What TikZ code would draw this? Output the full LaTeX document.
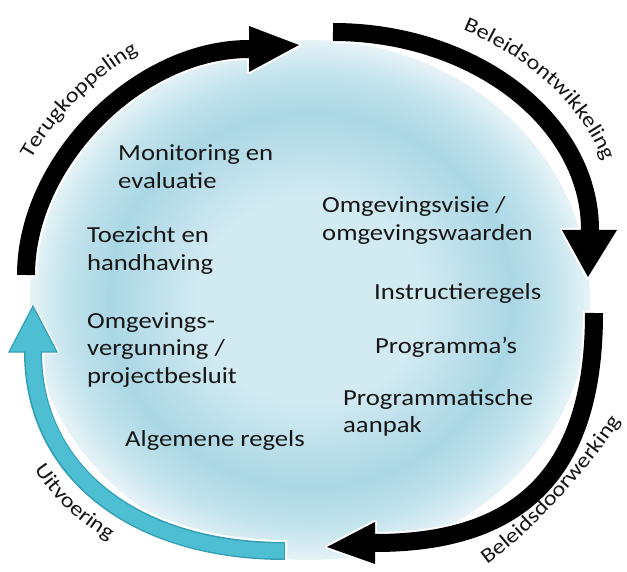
\documentclass[tikz,border=0pt]{standalone}
\usepackage{fontspec}
\setmainfont{Carlito}[FakeStretch=1.16]
\usetikzlibrary{calc,decorations.text}
\definecolor{txt}{HTML}{161616}
\definecolor{tealA}{HTML}{4EBED3}
\definecolor{tealB}{HTML}{34A0B7}
\definecolor{blobC}{HTML}{D2EAF2}
\definecolor{blobM}{HTML}{AAD7E4}
\definecolor{blobN}{HTML}{C4E4ED}
\definecolor{blobE}{HTML}{E6F3F7}
\pgfdeclareradialshading{blobshade}{\pgfpoint{0bp}{0bp}}{color(0bp)=(blobC); color(10bp)=(blobC); color(18bp)=(blobM); color(22bp)=(blobN); color(25bp)=(blobE); color(50bp)=(blobE)}
\newcommand\lblfont{\fontsize{23}{27.5}\selectfont}
\newcommand\arcfont{\fontsize{21}{21}\selectfont}
\begin{document}
\begin{tikzpicture}[x=1pt,y=1pt,
  lbl/.style={font=\lblfont, text=txt, anchor=base west, inner sep=0pt},
  halo/.style={white, line width=22pt, shorten <=-2pt},
  headhalo/.style={fill=white, draw=white, line width=4pt, line join=round},
  shaftk/.style={black, line width=18pt},
  curvetext/.style={decorate, decoration={text along path, text color=txt, text={|\arcfont|#1}}}
]
\useasboundingbox (0,0) rectangle (627,-572);
\fill[white] (0,0) rectangle (627,-572);
% blob
\shade[shading=blobshade] (310,-300) ellipse [x radius=280, y radius=260];

% ---------- arrow 1 (Terugkoppeling)
\coordinate (a1s) at (26,-275); \coordinate (a1c) at (26,-49); \coordinate (a1e) at (249,-49);
\coordinate (h1a) at (249,-26); \coordinate (h1t) at (299,-45); \coordinate (h1b) at (249,-72);
\draw[halo] (a1s) .. controls ($(a1s)!0.5!(a1c)$) and ($(a1e)!0.5!(a1c)$) .. (a1e);
\filldraw[headhalo] (h1a) -- (h1t) -- (h1b) -- cycle;
\draw[shaftk] (a1s) .. controls ($(a1s)!0.5!(a1c)$) and ($(a1e)!0.5!(a1c)$) .. (a1e);
\fill[black] (h1a) -- (h1t) -- (h1b) -- cycle;

% ---------- arrow 2 (Beleidsontwikkeling)
\coordinate (a2s) at (333,-32); \coordinate (a2c) at (590,-32); \coordinate (a2e) at (590,-230);
\coordinate (h2a) at (562,-230); \coordinate (h2t) at (588,-277); \coordinate (h2b) at (617,-230);
\draw[halo] (a2s) .. controls ($(a2s)!0.55!(a2c)$) and ($(a2e)!0.55!(a2c)$) .. (a2e);
\filldraw[headhalo] (h2a) -- (h2t) -- (h2b) -- cycle;
\draw[shaftk] (a2s) .. controls ($(a2s)!0.55!(a2c)$) and ($(a2e)!0.55!(a2c)$) .. (a2e);
\fill[black] (h2a) -- (h2t) -- (h2b) -- cycle;

% ---------- arrow 3 (Beleidsdoorwerking)
\coordinate (a3s) at (594,-313); \coordinate (a3c) at (594,-543); \coordinate (a3e) at (375,-543);
\coordinate (h3a) at (375,-522); \coordinate (h3t) at (327,-547); \coordinate (h3b) at (375,-564);
\draw[halo] (a3s) .. controls ($(a3s)!0.68!(a3c)$) and ($(a3e)!0.68!(a3c)$) .. (a3e);
\filldraw[headhalo] (h3a) -- (h3t) -- (h3b) -- cycle;
\draw[shaftk] (a3s) .. controls ($(a3s)!0.68!(a3c)$) and ($(a3e)!0.68!(a3c)$) .. (a3e);
\fill[black] (h3a) -- (h3t) -- (h3b) -- cycle;

% ---------- arrow 4 (Uitvoering, teal)
\coordinate (a4s) at (285,-551); \coordinate (a4c) at (33,-551); \coordinate (a4e) at (33,-352);
\coordinate (h4a) at (9,-352); \coordinate (h4t) at (33,-306); \coordinate (h4b) at (57,-352);
\draw[halo] (a4s) .. controls ($(a4s)!0.6!(a4c)$) and ($(a4e)!0.6!(a4c)$) .. (a4e);
\filldraw[headhalo] (h4a) -- (h4t) -- (h4b) -- cycle;
\filldraw[fill=tealA, draw=tealB, line width=1.2pt] (h4a) -- (h4t) -- (h4b) -- cycle;
\draw[tealB, line width=18pt] (a4s) .. controls ($(a4s)!0.6!(a4c)$) and ($(a4e)!0.6!(a4c)$) .. (a4e);
\draw[tealA, line width=15pt, shorten <=1.2pt, shorten >=-2pt] (a4s) .. controls ($(a4s)!0.6!(a4c)$) and ($(a4e)!0.6!(a4c)$) .. (a4e);

% ---------- curved labels
\coordinate (t1s) at (-2,-275); \coordinate (t1c) at (-2,-21); \coordinate (t1e) at (249,-21);
\path[curvetext=Terugkoppeling, decoration={text align={left indent=121pt}}]
  (t1s) .. controls ($(t1s)!0.5!(t1c)$) and ($(t1e)!0.5!(t1c)$) .. (t1e);
\coordinate (t2s) at (333,-5); \coordinate (t2c) at (617,-5); \coordinate (t2e) at (617,-230);
\path[curvetext=Beleidsontwikkeling, decoration={text align={left indent=133pt}}]
  (t2s) .. controls ($(t2s)!0.55!(t2c)$) and ($(t2e)!0.55!(t2c)$) .. (t2e);
\coordinate (t3s) at (477,-571); \coordinate (t3e) at (638,-389);
\path[curvetext=Beleidsdoorwerking, decoration={text align={left indent=12pt}}]
  (t3s) .. controls (529,-539) and (614,-444) .. (t3e);
\coordinate (t4s) at (1,-352); \coordinate (t4c) at (1,-583); \coordinate (t4e) at (285,-583);
\path[curvetext=Uitvoering, decoration={text align={left indent=124pt}}]
  (t4s) .. controls ($(t4s)!0.6!(t4c)$) and ($(t4e)!0.6!(t4c)$) .. (t4e);

% ---------- inner texts
\node[lbl] (mon1) at (118,-161) {Monitoring en};
\node[lbl] (mon2) at (118,-188.5) {evaluatie};
\node[lbl] (toe1) at (87,-243) {Toezicht en};
\node[lbl] (toe2) at (87,-270.5) {handhaving};
\node[lbl] (omg1) at (87,-328) {Omgevings-};
\node[lbl] (omg2) at (87,-355.5) {vergunning /};
\node[lbl] (omg3) at (87,-383) {projectbesluit};
\node[lbl] (alg) at (125,-446) {Algemene regels};
\node[lbl] (vis1) at (322,-213) {Omgevingsvisie /};
\node[lbl] (vis2) at (322,-240.5) {omgevingswaarden};
\node[lbl] (ins) at (374,-300) {Instructieregels};
\node[lbl] (pro) at (375,-353) {Programma’s};
\node[lbl] (pa1) at (343,-405) {Programmatische};
\node[lbl] (pa2) at (343,-432.5) {aanpak};
\end{tikzpicture}
\end{document}
